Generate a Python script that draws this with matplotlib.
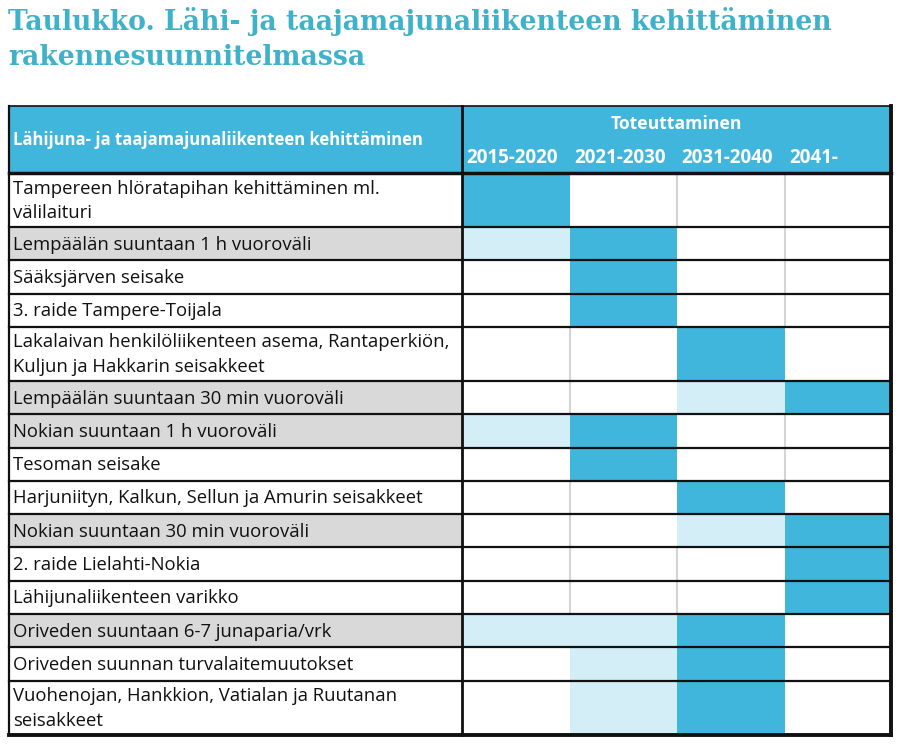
import matplotlib.pyplot as plt
from matplotlib.patches import Rectangle

# Data: table rows, shading level per period (0 = none, 1 = light, 2 = full)
title = "Taulukko. Lähi- ja taajamajunaliikenteen kehittäminen\nrakennesuunnitelmassa"
header_label = "Lähijuna- ja taajamajunaliikenteen kehittäminen"
header_group = "Toteuttaminen"
periods = ["2015-2020", "2021-2030", "2031-2040", "2041-"]

measures = [
    "Tampereen hlöratapihan kehittäminen ml.\nvälilaituri",
    "Lempäälän suuntaan 1 h vuoroväli",
    "Sääksjärven seisake",
    "3. raide Tampere-Toijala",
    "Lakalaivan henkilöliikenteen asema, Rantaperkiön,\nKuljun ja Hakkarin seisakkeet",
    "Lempäälän suuntaan 30 min vuoroväli",
    "Nokian suuntaan 1 h vuoroväli",
    "Tesoman seisake",
    "Harjuniityn, Kalkun, Sellun ja Amurin seisakkeet",
    "Nokian suuntaan 30 min vuoroväli",
    "2. raide Lielahti-Nokia",
    "Lähijunaliikenteen varikko",
    "Oriveden suuntaan 6-7 junaparia/vrk",
    "Oriveden suunnan turvalaitemuutokset",
    "Vuohenojan, Hankkion, Vatialan ja Ruutanan\nseisakkeet",
]
schedule = [
    [2, 0, 0, 0],
    [1, 2, 0, 0],
    [0, 2, 0, 0],
    [0, 2, 0, 0],
    [0, 0, 2, 0],
    [0, 0, 1, 2],
    [1, 2, 0, 0],
    [0, 2, 0, 0],
    [0, 0, 2, 0],
    [0, 0, 1, 2],
    [0, 0, 0, 2],
    [0, 0, 0, 2],
    [1, 1, 2, 0],
    [0, 1, 2, 0],
    [0, 1, 2, 0],
]
grey_rows = [1, 5, 6, 9, 12]

# Styling
BLUE = "#41b6dd"
LIGHT = "#d3eef7"
GREY = "#d9d9d9"
TITLE_C = "#3fb2c9"
shade = {0: "white", 1: LIGHT, 2: BLUE}

# Layout in pixels
W, H = 900, 747
X0, XDIV, X1 = 9, 462, 891
col_edges = [462, 570, 677, 785, 891]
HEAD_TOP, HEAD_BOT = 106, 173
ROW1, ROW2 = 33.3, 54

fig = plt.figure(figsize=(W / 100, H / 100), dpi=100)
ax = fig.add_axes([0, 0, 1, 1])
ax.set_xlim(0, W)
ax.set_ylim(H, 0)
ax.axis("off")

body_font = "Open Sans"

ax.text(8, 7, title, color=TITLE_C, fontsize=19.2, fontweight="bold",
        family="DejaVu Serif", va="top", ha="left", linespacing=1.38)

# header
ax.add_patch(Rectangle((X0, HEAD_TOP), X1 - X0, HEAD_BOT - HEAD_TOP, fc=BLUE, ec="none"))
ax.text(13, 140, header_label, color="white", fontsize=12, fontweight="bold",
        family=body_font, va="center", ha="left")
ax.text((XDIV + X1) / 2, 124, header_group, color="white", fontsize=12.6,
        fontweight="bold", family=body_font, va="center", ha="center")
for i, p in enumerate(periods):
    ax.text(col_edges[i] + 4, 158, p, color="white", fontsize=13.5,
            fontweight="bold", family=body_font, va="center", ha="left")

# body rows
y = HEAD_BOT
row_lines = [y]
for r, (label, levels) in enumerate(zip(measures, schedule)):
    h = ROW2 if "\n" in label else ROW1
    if r in grey_rows:
        ax.add_patch(Rectangle((X0, y), XDIV - X0, h, fc=GREY, ec="none"))
    for c, lv in enumerate(levels):
        ax.add_patch(Rectangle((col_edges[c], y), col_edges[c + 1] - col_edges[c], h,
                               fc=shade[lv], ec="none"))
        # light grey separators between empty cells
        if c > 0 and lv == 0 and levels[c - 1] == 0:
            ax.plot([col_edges[c]] * 2, [y, y + h], color="#d4d4d4", lw=1.5)
    ax.text(13, y + h / 2 + 1, label, fontsize=13.3, family=body_font,
            va="center", ha="left", linespacing=1.5, color="#111111")
    y += h
    row_lines.append(y)

for yy in row_lines[1:-1]:
    ax.plot([X0, X1], [yy, yy], color="#111111", lw=1.6)
ax.plot([X0, X1], [HEAD_TOP, HEAD_TOP], color="#111111", lw=1.2)
ax.plot([X0, X1], [HEAD_BOT, HEAD_BOT], color="#111111", lw=2.5)
ax.plot([X0, X1], [row_lines[-1], row_lines[-1]], color="#111111", lw=2.8)
ax.plot([X0, X0], [HEAD_TOP, row_lines[-1]], color="#111111", lw=1.6)
ax.plot([XDIV, XDIV], [HEAD_TOP, row_lines[-1]], color="#111111", lw=2.0)
ax.plot([X1, X1], [HEAD_TOP, row_lines[-1]], color="#111111", lw=2.8)

fig.savefig("out.png", dpi=100)
